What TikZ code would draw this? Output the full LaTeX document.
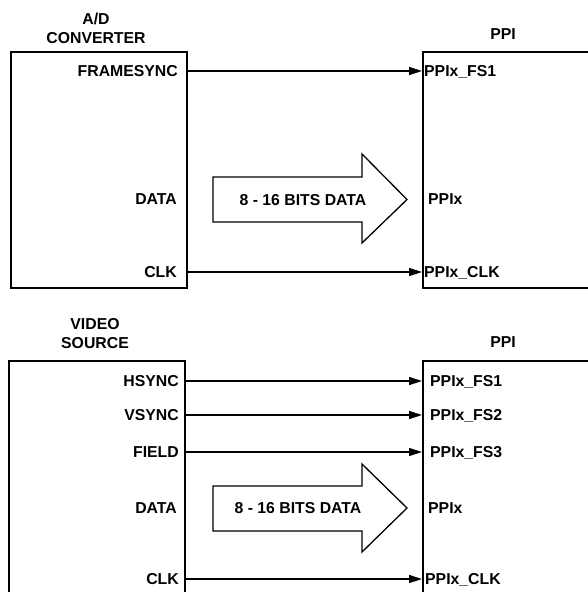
\documentclass[tikz,border=0pt]{standalone}
\usepackage{fontspec}
\setmainfont{Liberation Sans}
\usetikzlibrary{arrows.meta}
\tikzset{
  box/.style={draw, line width=1.7pt, inner sep=0pt, anchor=north west},
  lbl/.style={font=\fontsize{15.8}{19}\selectfont\bfseries, inner sep=0pt, text height=11.3pt, text depth=0pt},
  ttl/.style={font=\fontsize{15.8}{19}\selectfont\bfseries, inner sep=0pt, align=center},
  sig/.style={line width=1.4pt, -{Triangle[length=13pt,width=8pt]}},
  fat/.style={draw, line width=1.3pt, fill=white, line join=miter},
}
\begin{document}
\begin{tikzpicture}[x=1pt,y=-1pt]
\useasboundingbox (0,0) rectangle (588,592);
\clip (0,0) rectangle (588,592);
% ---------- top ----------
\node[ttl] (adt) at (96,28) {A/D\\CONVERTER};
\node[ttl] (ppit) at (503,34) {PPI};
\node[box, minimum width=176pt, minimum height=236pt] (A) at (10,51) {};
\node[box, minimum width=300pt, minimum height=236pt] (P) at (422,51) {};
\node[lbl, anchor=east] (fs) at (178,71) {FRAMESYNC};
\node[lbl, anchor=east] (dat) at (177,199) {DATA};
\node[lbl, anchor=east] (clk) at (177,272) {CLK};
\node[lbl, anchor=west] (pfs) at (424,71) {PPIx\_FS1};
\node[lbl, anchor=west] (px) at (428,199) {PPIx};
\node[lbl, anchor=west] (pclk) at (424,272) {PPIx\_CLK};
\draw[sig] (A.east |- fs) -- (P.west |- fs);
\draw[sig] (A.east |- clk) -- (P.west |- clk);
\draw[fat] (213,177) -- (362,177) -- (362,154) -- (407,199.5) -- (362,243) -- (362,222) -- (213,222) -- cycle;
\node[lbl] (bt) at (303,200) {8 - 16 BITS DATA};
% ---------- bottom ----------
\node[ttl] (vst) at (95,334) {VIDEO\\SOURCE};
\node[ttl] (ppib) at (503,342) {PPI};
\node[box, minimum width=176pt, minimum height=300pt] (V) at (8,360) {};
\node[box, minimum width=300pt, minimum height=300pt] (Q) at (422,360) {};
\node[lbl, anchor=east] (hs) at (179,381) {HSYNC};
\node[lbl, anchor=east] (vs) at (179,415) {VSYNC};
\node[lbl, anchor=east] (fl) at (179,452) {FIELD};
\node[lbl, anchor=east] (dat2) at (177,508) {DATA};
\node[lbl, anchor=east] (clk2) at (179,579) {CLK};
\node[lbl, anchor=west] (q1) at (430,381) {PPIx\_FS1};
\node[lbl, anchor=west] (q2) at (430,415) {PPIx\_FS2};
\node[lbl, anchor=west] (q3) at (430,452) {PPIx\_FS3};
\node[lbl, anchor=west] (qx) at (428,508) {PPIx};
\node[lbl, anchor=west] (qclk) at (425,579) {PPIx\_CLK};
\draw[sig] (V.east |- hs) -- (Q.west |- hs);
\draw[sig] (V.east |- vs) -- (Q.west |- vs);
\draw[sig] (V.east |- fl) -- (Q.west |- fl);
\draw[sig] (V.east |- clk2) -- (Q.west |- clk2);
\draw[fat] (213,486) -- (362,486) -- (362,464) -- (407,508) -- (362,552) -- (362,531) -- (213,531) -- cycle;
\node[lbl] (bb) at (298,508) {8 - 16 BITS DATA};
\end{tikzpicture}
\end{document}
